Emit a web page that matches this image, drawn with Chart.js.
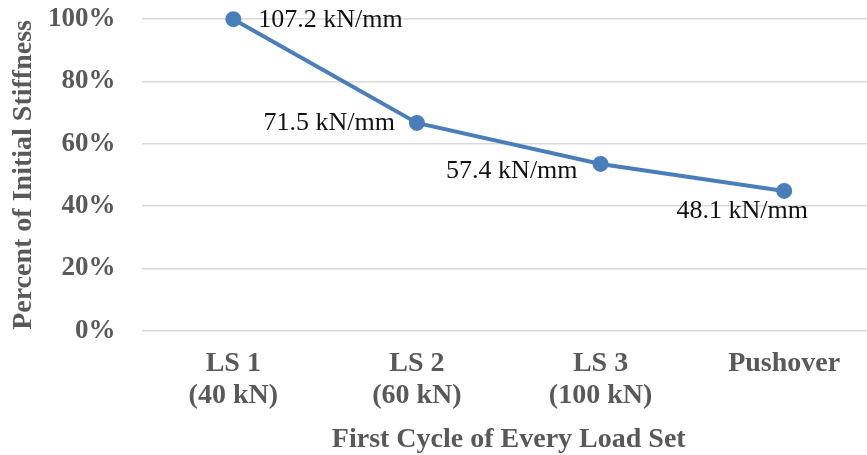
<!DOCTYPE html>
<html>
<head>
<meta charset="utf-8">
<script src="https://cdn.jsdelivr.net/npm/chart.js@4"></script>
<style>
  html, body { margin: 0; padding: 0; background: #fff; overflow: hidden; }
  #wrap { width: 876px; height: 455px; }
</style>
</head>
<body>
<div id="wrap"><canvas id="myChart" width="876" height="455"></canvas></div>
<script>
// first cycle stiffness of every load set
var loadSets = [["LS 1", "(40 kN)"], ["LS 2", "(60 kN)"], ["LS 3", "(100 kN)"], "Pushover"];
var stiffness = [107.2, 71.5, 57.4, 48.1]; // kN/mm
var yTicks = [0, 0.2, 0.4, 0.6, 0.8, 1.0];

// plotted as a fraction of the first (initial) stiffness
var percentOfInitial = stiffness.map(function (k) { return k / stiffness[0]; });

var FONT = "'Liberation Serif', 'Times New Roman', serif";
var GREY = "#595959";

// where each value label sits relative to its point
var labelPlace = [
  { align: "left", dx: 25, dy: 1 },
  { align: "right", dx: -22, dy: 0 },
  { align: "right", dx: -23, dy: 7 },
  { align: "center", dx: -42, dy: 20 }
];

var valueLabels = {
  id: "valueLabels",
  afterDatasetsDraw: function (chart) {
    var ctx = chart.ctx;
    var pts = chart.getDatasetMeta(0).data;
    ctx.save();
    ctx.font = "26px " + FONT;
    ctx.fillStyle = "#111";
    ctx.textBaseline = "middle";
    pts.forEach(function (p, i) {
      var pl = labelPlace[i];
      ctx.textAlign = pl.align;
      ctx.fillText(stiffness[i] + " kN/mm", p.x + pl.dx, p.y + pl.dy);
    });
    ctx.restore();
  }
};

new Chart("myChart", {
  type: "line",
  data: {
    labels: loadSets,
    datasets: [{
      data: percentOfInitial,
      borderColor: "#4a7ebb",
      backgroundColor: "#4a7ebb",
      borderWidth: 4,
      pointRadius: 6,
      pointHoverRadius: 6,
      tension: 0,
      fill: false,
      clip: false
    }]
  },
  options: {
    responsive: false,
    animation: false,
    devicePixelRatio: 1,
    layout: { autoPadding: false, padding: { top: 19.2, right: 0, bottom: 0, left: 0 } },
    plugins: { legend: { display: false }, tooltip: { enabled: false } },
    scales: {
      x: {
        offset: true,
        grid: { display: false, drawTicks: false },
        border: { display: false },
        ticks: {
          color: GREY,
          padding: 17,
          maxRotation: 0,
          font: { family: FONT, size: 28, weight: "bold", lineHeight: 1.15 }
        },
        title: {
          display: true,
          text: "First Cycle of Every Load Set",
          color: GREY,
          padding: { top: 0, bottom: -2 },
          font: { family: FONT, size: 28, weight: "bold", lineHeight: 1.2 }
        },
        afterFit: function (scale) {
          scale.height = 124.3;
          scale.paddingLeft = 0;
          scale.paddingRight = 0;
        }
      },
      y: {
        min: 0,
        max: 1,
        afterBuildTicks: function (scale) {
          scale.ticks = yTicks.map(function (v) { return { value: v }; });
        },
        grid: { color: "#d9d9d9", lineWidth: 1.5, drawTicks: false },
        border: { display: false },
        ticks: {
          color: GREY,
          padding: 26,
          font: { family: FONT, size: 27, weight: "bold" },
          callback: function (v) { return Math.round(v * 100) + "%"; }
        },
        title: {
          display: true,
          text: "Percent of Initial Stiffness",
          color: GREY,
          padding: { top: 7, bottom: 0 },
          font: { family: FONT, size: 28, weight: "bold", lineHeight: 1.2 }
        },
        afterFit: function (scale) {
          scale.width = 141.5;
          scale.paddingTop = 0;
          scale.paddingBottom = 0;
        }
      }
    }
  },
  plugins: [valueLabels]
});
</script>
</body>
</html>
